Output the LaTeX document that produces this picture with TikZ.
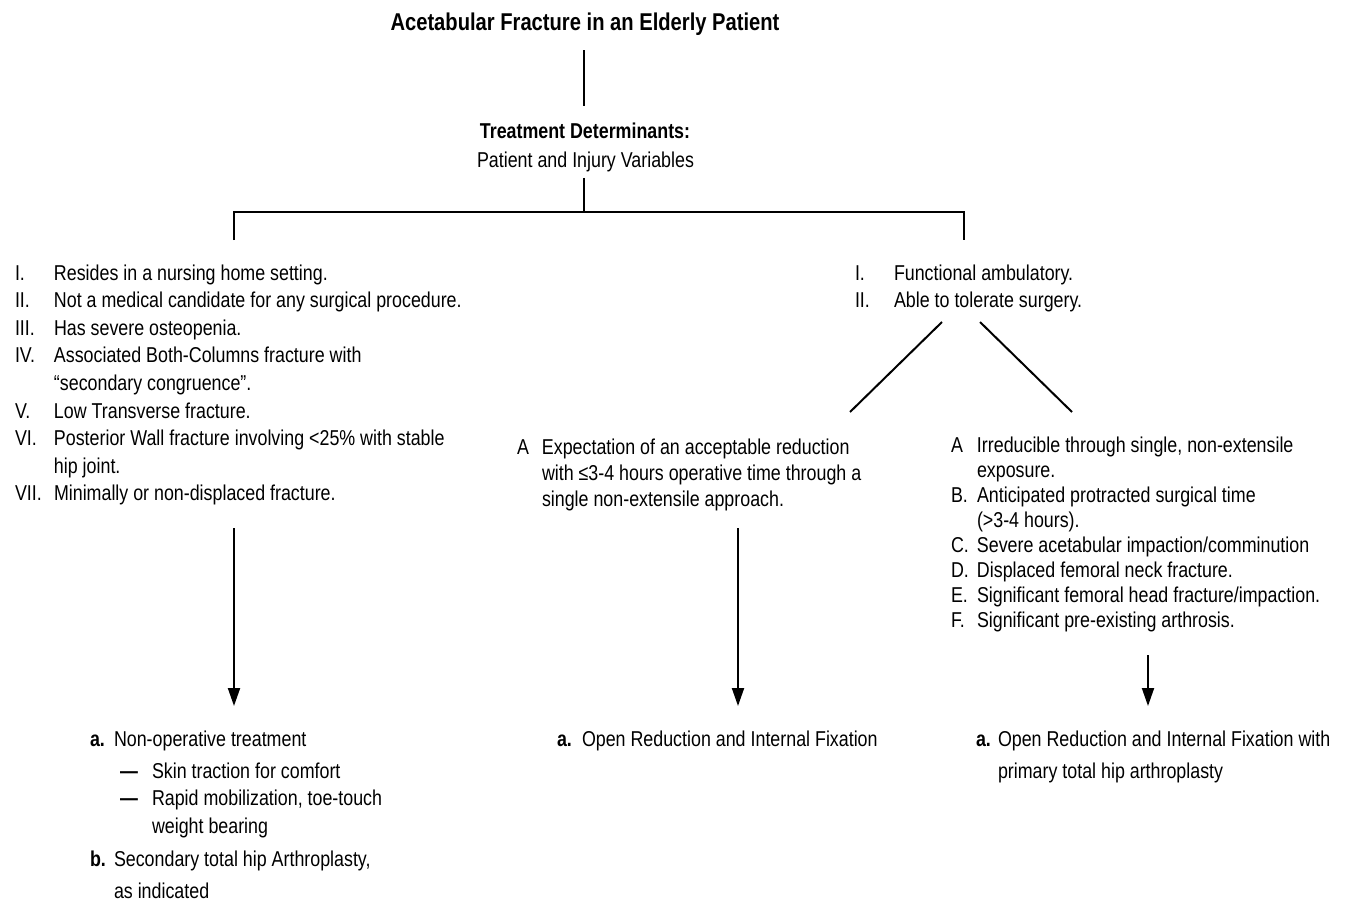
\documentclass[tikz,border=0pt]{standalone}
\usepackage{fontspec}
\setmainfont{Liberation Sans}[FakeStretch=0.83]
\usetikzlibrary{arrows.meta,positioning}

\tikzset{
  every node/.style={inner sep=0pt, outer sep=0pt},
  txt/.style={font=\fontsize{21.5}{27.6}\selectfont, anchor=base west},
  tree/.style={line width=2pt},
  arr/.style={line width=2pt, -{Triangle[length=18pt,width=12pt]}},
}

\begin{document}
\begin{tikzpicture}[x=1pt,y=-1pt]
        \useasboundingbox (0,0) rectangle (1347,900);

        % top of the tree
        \node[anchor=base, font=\fontsize{24.3}{29}\selectfont\bfseries] (title) at (585,30) {Acetabular Fracture in an Elderly Patient};
        \node[txt, anchor=base, font=\fontsize{21.5}{27.6}\selectfont\bfseries] (det) at (585,138) {Treatment Determinants:};
        \node[txt, anchor=base] (vars) at (585.5,167) {Patient and Injury Variables};

        \coordinate (split) at (584,212);
        \coordinate (brL) at (234,212);
        \coordinate (brR) at (964,212);

        % criteria lists
        \node[txt] (leftlist) at (15,280) {\begin{tabular}[t]{@{}p{39pt}@{}l@{}}
            I. & Resides in a nursing home setting.\\
            II. & Not a medical candidate for any surgical procedure.\\
            III. & Has severe osteopenia.\\
            IV. & Associated Both-Columns fracture with\\
             & “secondary congruence”.\\
            V. & Low Transverse fracture.\\
            VI. & Posterior Wall fracture involving <25\% with stable\\
             & hip joint.\\
            VII. & Minimally or non-displaced fracture.
          \end{tabular}};
        \node[txt] (rtop) at (855,280) {\begin{tabular}[t]{@{}p{39pt}@{}l@{}}
            I. & Functional ambulatory.\\
            II. & Able to tolerate surgery.
          \end{tabular}};
        \node[txt, font=\fontsize{21.5}{26}\selectfont] (midlist) at (517,454) {\begin{tabular}[t]{@{}p{25pt}@{}l@{}}
            A & Expectation of an acceptable reduction\\
             & with ≤3-4 hours operative time through a\\
             & single non-extensile approach.
          \end{tabular}};
        \node[txt, font=\fontsize{21.5}{25.1}\selectfont] (rightlist) at (951,452) {\begin{tabular}[t]{@{}p{26pt}@{}l@{}}
            A & Irreducible through single, non-extensile\\
             & exposure.\\
            B. & Anticipated protracted surgical time\\
             & (>3-4 hours).\\
            C. & Severe acetabular impaction/comminution\\
            D. & Displaced femoral neck fracture.\\
            E. & Significant femoral head fracture/impaction.\\
            F. & Significant pre-existing arthrosis.
          \end{tabular}};

        % treatments
        \node[txt, font=\fontsize{21.5}{27.5}\selectfont] (nonop) at (90,746) {\begin{tabular}[t]{@{}p{24pt}@{}l@{}}
            \textbf{a.} & Non-operative treatment\\[4.5pt]
             & \hspace{6pt}\makebox[32pt][l]{\textbf{---}}Skin traction for comfort\\
             & \hspace{6pt}\makebox[32pt][l]{\textbf{---}}Rapid mobilization, toe-touch\\
             & \hspace{38pt}weight bearing\\[5.5pt]
            \textbf{b.} & Secondary total hip Arthroplasty,\\[4.5pt]
             & as indicated
          \end{tabular}};
        \node[txt, font=\fontsize{21.5}{27.5}\selectfont] (orif) at (557,746) {\begin{tabular}[t]{@{}p{25pt}@{}l@{}}
            \textbf{a.} & Open Reduction and Internal Fixation
          \end{tabular}};
        \node[txt, font=\fontsize{21.5}{27.5}\selectfont] (orifhip) at (976,746) {\begin{tabular}[t]{@{}p{22pt}@{}l@{}}
            \textbf{a.} & Open Reduction and Internal Fixation with\\[4.5pt]
             & primary total hip arthroplasty
          \end{tabular}};

        \coordinate (fork1) at (942,322);
        \coordinate (fork2) at (980,322);
        \coordinate (tipM) at (850,412);
        \coordinate (tipR) at (1072,412);
        \coordinate (colL) at (234,0);
        \coordinate (colM) at (738,0);
        \coordinate (colR) at (1148,0);

        \draw[tree, shorten <=15pt, shorten >=16.6pt] (title.south -| split) -- (det.north -| split);
        \draw[tree, shorten <=6.5pt] (vars.south -| split) -- (split);
        \draw[tree] ([yshift=-28pt]brL) -- (brL) -- (brR) -- ([yshift=-28pt]brR);
        \draw[tree] (fork1) -- (tipM);
        \draw[tree] (fork2) -- (tipR);

        \draw[arr, shorten <=19pt, shorten >=20.75pt] (leftlist.south -| colL) -- (nonop.north -| colL);
        \draw[arr, shorten <=14.2pt, shorten >=20.75pt] (midlist.south -| colM) -- (orif.north -| colM);
        \draw[arr, shorten <=19.8pt, shorten >=20.75pt] (rightlist.south -| colR) -- (orifhip.north -| colR);
    \end{tikzpicture}
\end{document}
